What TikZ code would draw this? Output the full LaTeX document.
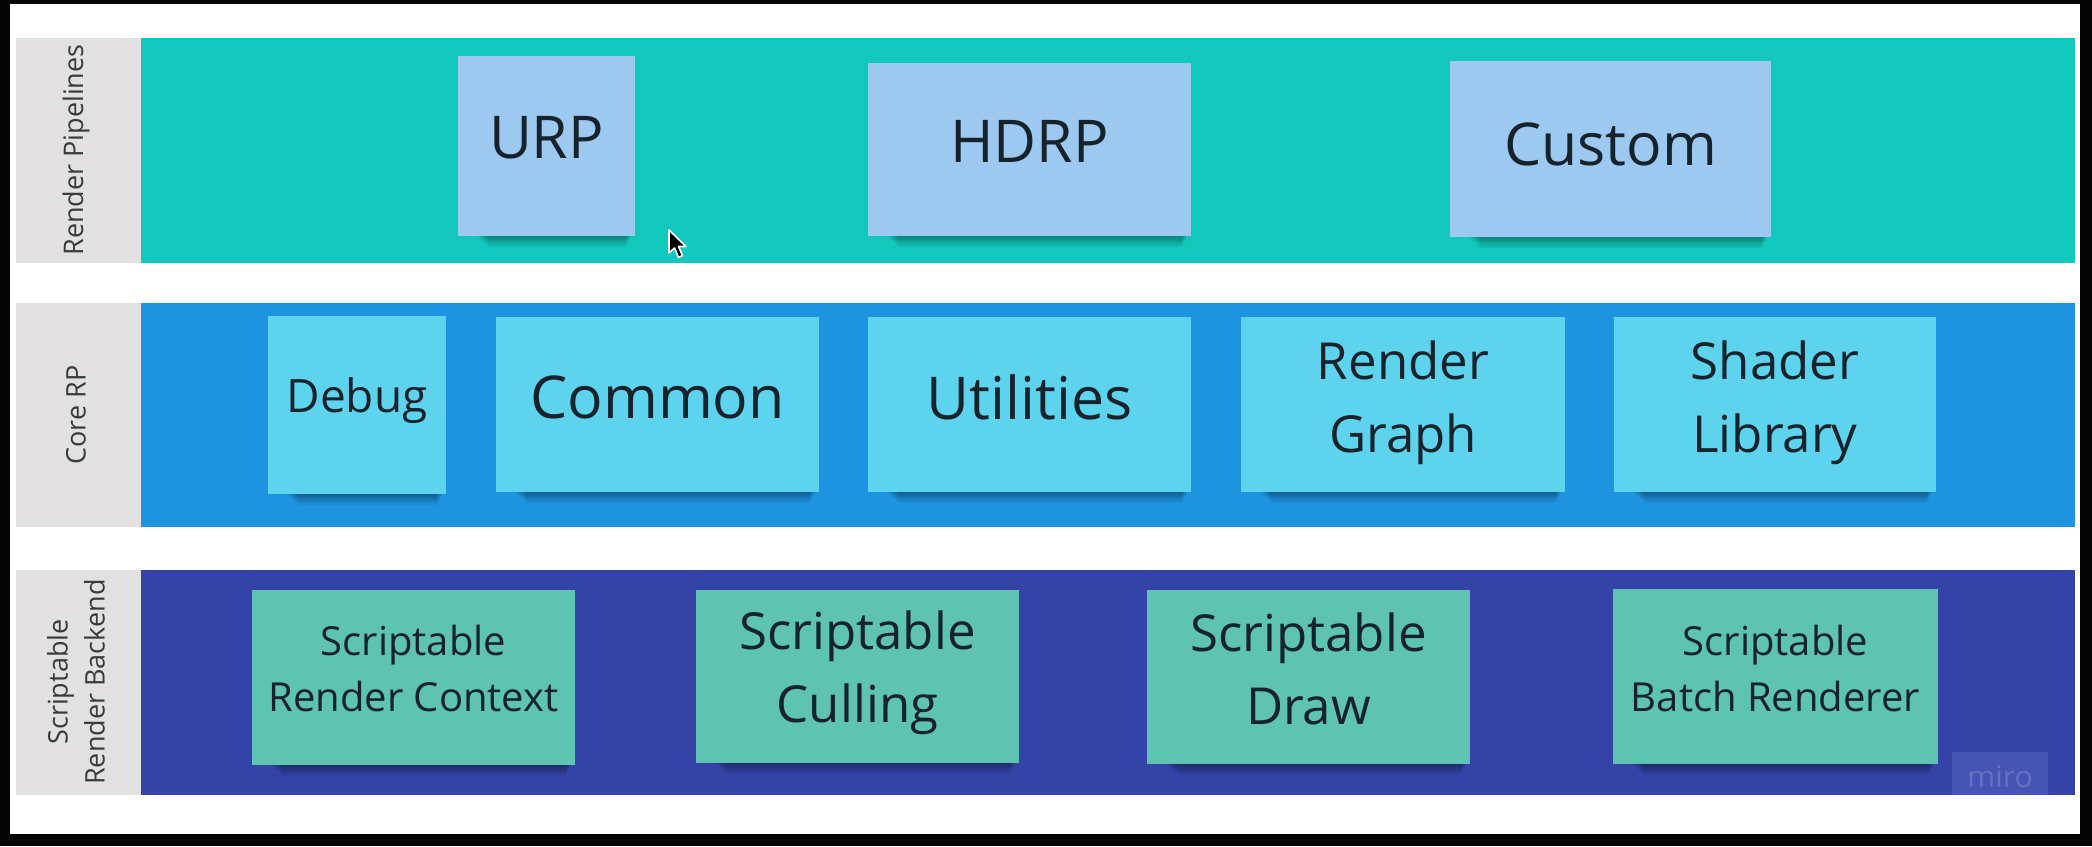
\documentclass[tikz,border=0pt]{standalone}
\usepackage{fontspec}
\setmainfont{Open Sans}
\definecolor{frameblk}{HTML}{050505}
\definecolor{lblgray}{HTML}{E2E0E1}
\definecolor{lbltxt}{HTML}{3A3A3C}
\definecolor{bandA}{HTML}{12C7BC}
\definecolor{bandB}{HTML}{1E94E0}
\definecolor{bandC}{HTML}{3443A6}
\definecolor{noteA}{HTML}{9DC8F0}
\definecolor{noteB}{HTML}{5DD3EE}
\definecolor{noteC}{HTML}{5EC3B0}
\definecolor{txt}{HTML}{14232C}
\definecolor{miroBox}{HTML}{4654B3}
\definecolor{miroTxt}{HTML}{6571C2}
\tikzset{
  stickynote/.style={inner sep=0pt, align=center, text=txt},
  bigtxt/.style={font=\fontsize{29.5}{38}\selectfont},
  midtxt/.style={font=\fontsize{25.5}{36.5}\selectfont},
  smalltxt/.style={font=\fontsize{20}{28}\selectfont},
  debugtxt/.style={font=\fontsize{23}{30}\selectfont},
  sidelabel/.style={rotate=90, align=center, text=lbltxt, inner sep=0pt, font=\fontsize{13.5}{18.5}\selectfont},
}
% name, x1, y1, x2, y2, fill, style, upward text shift (px), text
\newcommand\mknote[9]{%
  \pgfmathsetmacro\ncx{(#2+#4)/2}%
  \pgfmathsetmacro\ncy{(#3+#5)/2}%
  \pgfmathsetmacro\nw{(#4-#2)/2}%
  \pgfmathsetmacro\nh{(#5-#3)/2}%
  \foreach \k in {1,...,6}{%
    \fill[black, opacity=0.06] (#2+18+\k*2, #5-2) rectangle (#4-3-\k, #5+\k*1.8);
  }%
  \node[inner sep=0pt, fill=#6, minimum width=\nw pt, minimum height=\nh pt] (#1) at (\ncx,\ncy) {};%
  \node[stickynote, #7] (#1-t) at ([yshift=#8*0.5pt]#1.center) {#9};%
}
\begin{document}
\begin{tikzpicture}[x=0.5pt, y=-0.5pt]
\useasboundingbox (0,0) rectangle (2092,846);
% frame
\fill[frameblk] (0,0) rectangle (2092,846);
\fill[white] (10,4) rectangle (2080,834);
% bands
\fill[lblgray] (16,38) rectangle (141,263);
\fill[bandA] (141,38) rectangle (2075,263);
\fill[lblgray] (16,303) rectangle (141,527);
\fill[bandB] (141,303) rectangle (2075,527);
\fill[lblgray] (16,570) rectangle (141,795);
\fill[bandC] (141,570) rectangle (2075,795);
% side labels
\node[sidelabel] (lbl1) at (76,150) {Render Pipelines};
\node[sidelabel] (lbl2) at (76,415) {Core RP};
\node[sidelabel] (lbl3) at (76,682) {Scriptable\\Render Backend};
% row 1
\mknote{urp}{458}{56}{635}{236}{noteA}{bigtxt}{8}{URP}
\mknote{hdrp}{868}{63}{1191}{236}{noteA}{bigtxt}{8}{HDRP}
\mknote{custom}{1450}{61}{1771}{237}{noteA}{bigtxt}{5}{Custom}
% row 2
\mknote{debug}{268}{316}{446}{494}{noteB}{debugtxt}{4}{Debug}
\mknote{common}{496}{317}{819}{492}{noteB}{bigtxt}{7}{Common}
\mknote{util}{868}{317}{1191}{492}{noteB}{bigtxt}{7}{Utilities}
\mknote{rgraph}{1241}{317}{1565}{492}{noteB}{midtxt}{2}{Render\\Graph}
\mknote{shlib}{1614}{317}{1936}{492}{noteB}{midtxt}{2}{Shader\\Library}
% row 3
\mknote{src}{252}{590}{575}{765}{noteC}{smalltxt}{9}{Scriptable\\Render Context}
\mknote{cull}{696}{590}{1019}{763}{noteC}{midtxt}{4}{Scriptable\\Culling}
\mknote{sdraw}{1147}{590}{1470}{764}{noteC}{midtxt}{8}{Scriptable\\Draw}
\mknote{batch}{1613}{589}{1938}{764}{noteC}{smalltxt}{8}{Scriptable\\Batch Renderer}
% miro watermark
\fill[miroBox] (1952,752) rectangle (2048,795);
\node[text=miroTxt, inner sep=0pt, font=\fontsize{15}{18}\selectfont] (miro) at (2000,777) {miro};
% mouse cursor
\filldraw[black, draw=white, line width=0.8pt, line join=round]
  (669,230) -- (669,253) -- (674.5,248) -- (678.5,257.5) -- (682.5,255.5) -- (678.5,246.5) -- (686,246.5) -- cycle;
\end{tikzpicture}
\end{document}
